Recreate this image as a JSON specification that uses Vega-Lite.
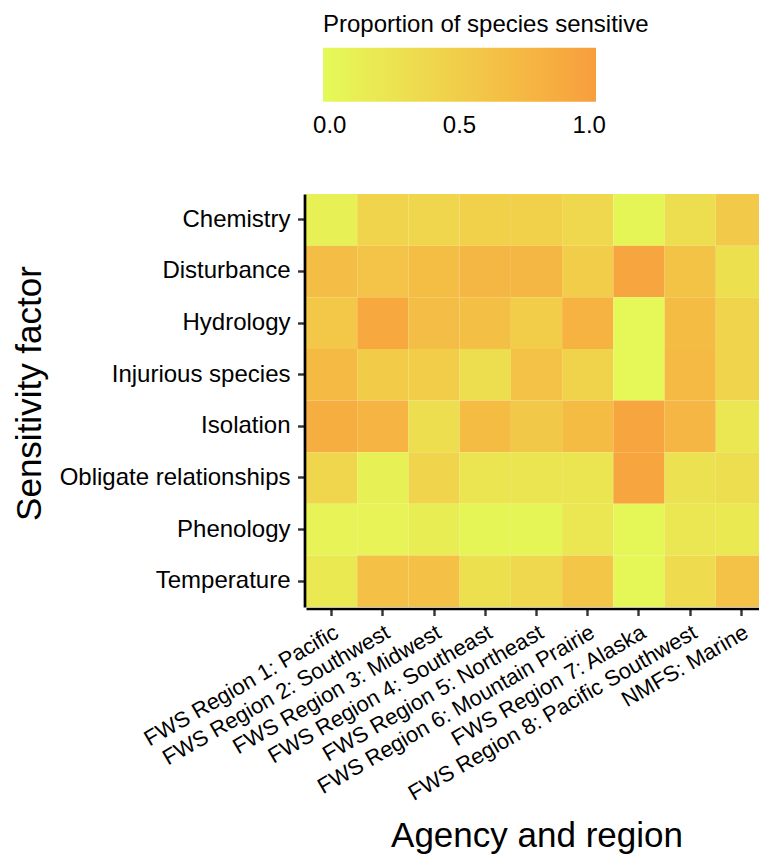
{
  "$schema": "https://vega.github.io/schema/vega-lite/v6.json",
  "autosize": {"type": "none"},
  "padding": {"left": 306, "top": 194, "right": 0, "bottom": 247},
  "width": 461,
  "height": 413,
  "background": "white",
  "config": {
    "view": {"stroke": null},
    "font": "Liberation Sans",
    "axis": {"grid": false}
  },
  "data": {
    "values": [
      {"region": "FWS Region 1: Pacific", "factor": "Chemistry", "p": 0.08},
      {"region": "FWS Region 2: Southwest", "factor": "Chemistry", "p": 0.42},
      {"region": "FWS Region 3: Midwest", "factor": "Chemistry", "p": 0.40},
      {"region": "FWS Region 4: Southeast", "factor": "Chemistry", "p": 0.47},
      {"region": "FWS Region 5: Northeast", "factor": "Chemistry", "p": 0.47},
      {"region": "FWS Region 6: Mountain Prairie", "factor": "Chemistry", "p": 0.38},
      {"region": "FWS Region 7: Alaska", "factor": "Chemistry", "p": 0.03},
      {"region": "FWS Region 8: Pacific Southwest", "factor": "Chemistry", "p": 0.30},
      {"region": "NMFS: Marine", "factor": "Chemistry", "p": 0.55},

      {"region": "FWS Region 1: Pacific", "factor": "Disturbance", "p": 0.68},
      {"region": "FWS Region 2: Southwest", "factor": "Disturbance", "p": 0.60},
      {"region": "FWS Region 3: Midwest", "factor": "Disturbance", "p": 0.67},
      {"region": "FWS Region 4: Southeast", "factor": "Disturbance", "p": 0.75},
      {"region": "FWS Region 5: Northeast", "factor": "Disturbance", "p": 0.75},
      {"region": "FWS Region 6: Mountain Prairie", "factor": "Disturbance", "p": 0.50},
      {"region": "FWS Region 7: Alaska", "factor": "Disturbance", "p": 0.95},
      {"region": "FWS Region 8: Pacific Southwest", "factor": "Disturbance", "p": 0.62},
      {"region": "NMFS: Marine", "factor": "Disturbance", "p": 0.28},

      {"region": "FWS Region 1: Pacific", "factor": "Hydrology", "p": 0.57},
      {"region": "FWS Region 2: Southwest", "factor": "Hydrology", "p": 0.92},
      {"region": "FWS Region 3: Midwest", "factor": "Hydrology", "p": 0.68},
      {"region": "FWS Region 4: Southeast", "factor": "Hydrology", "p": 0.66},
      {"region": "FWS Region 5: Northeast", "factor": "Hydrology", "p": 0.50},
      {"region": "FWS Region 6: Mountain Prairie", "factor": "Hydrology", "p": 0.80},
      {"region": "FWS Region 7: Alaska", "factor": "Hydrology", "p": 0.0},
      {"region": "FWS Region 8: Pacific Southwest", "factor": "Hydrology", "p": 0.70},
      {"region": "NMFS: Marine", "factor": "Hydrology", "p": 0.42},

      {"region": "FWS Region 1: Pacific", "factor": "Injurious species", "p": 0.72},
      {"region": "FWS Region 2: Southwest", "factor": "Injurious species", "p": 0.52},
      {"region": "FWS Region 3: Midwest", "factor": "Injurious species", "p": 0.50},
      {"region": "FWS Region 4: Southeast", "factor": "Injurious species", "p": 0.30},
      {"region": "FWS Region 5: Northeast", "factor": "Injurious species", "p": 0.63},
      {"region": "FWS Region 6: Mountain Prairie", "factor": "Injurious species", "p": 0.43},
      {"region": "FWS Region 7: Alaska", "factor": "Injurious species", "p": 0.0},
      {"region": "FWS Region 8: Pacific Southwest", "factor": "Injurious species", "p": 0.72},
      {"region": "NMFS: Marine", "factor": "Injurious species", "p": 0.42},

      {"region": "FWS Region 1: Pacific", "factor": "Isolation", "p": 0.85},
      {"region": "FWS Region 2: Southwest", "factor": "Isolation", "p": 0.78},
      {"region": "FWS Region 3: Midwest", "factor": "Isolation", "p": 0.30},
      {"region": "FWS Region 4: Southeast", "factor": "Isolation", "p": 0.70},
      {"region": "FWS Region 5: Northeast", "factor": "Isolation", "p": 0.56},
      {"region": "FWS Region 6: Mountain Prairie", "factor": "Isolation", "p": 0.70},
      {"region": "FWS Region 7: Alaska", "factor": "Isolation", "p": 0.95},
      {"region": "FWS Region 8: Pacific Southwest", "factor": "Isolation", "p": 0.76},
      {"region": "NMFS: Marine", "factor": "Isolation", "p": 0.20},

      {"region": "FWS Region 1: Pacific", "factor": "Obligate relationships", "p": 0.40},
      {"region": "FWS Region 2: Southwest", "factor": "Obligate relationships", "p": 0.08},
      {"region": "FWS Region 3: Midwest", "factor": "Obligate relationships", "p": 0.42},
      {"region": "FWS Region 4: Southeast", "factor": "Obligate relationships", "p": 0.22},
      {"region": "FWS Region 5: Northeast", "factor": "Obligate relationships", "p": 0.22},
      {"region": "FWS Region 6: Mountain Prairie", "factor": "Obligate relationships", "p": 0.22},
      {"region": "FWS Region 7: Alaska", "factor": "Obligate relationships", "p": 0.95},
      {"region": "FWS Region 8: Pacific Southwest", "factor": "Obligate relationships", "p": 0.27},
      {"region": "NMFS: Marine", "factor": "Obligate relationships", "p": 0.30},

      {"region": "FWS Region 1: Pacific", "factor": "Phenology", "p": 0.06},
      {"region": "FWS Region 2: Southwest", "factor": "Phenology", "p": 0.06},
      {"region": "FWS Region 3: Midwest", "factor": "Phenology", "p": 0.13},
      {"region": "FWS Region 4: Southeast", "factor": "Phenology", "p": 0.03},
      {"region": "FWS Region 5: Northeast", "factor": "Phenology", "p": 0.03},
      {"region": "FWS Region 6: Mountain Prairie", "factor": "Phenology", "p": 0.20},
      {"region": "FWS Region 7: Alaska", "factor": "Phenology", "p": 0.02},
      {"region": "FWS Region 8: Pacific Southwest", "factor": "Phenology", "p": 0.20},
      {"region": "NMFS: Marine", "factor": "Phenology", "p": 0.18},

      {"region": "FWS Region 1: Pacific", "factor": "Temperature", "p": 0.18},
      {"region": "FWS Region 2: Southwest", "factor": "Temperature", "p": 0.65},
      {"region": "FWS Region 3: Midwest", "factor": "Temperature", "p": 0.65},
      {"region": "FWS Region 4: Southeast", "factor": "Temperature", "p": 0.28},
      {"region": "FWS Region 5: Northeast", "factor": "Temperature", "p": 0.38},
      {"region": "FWS Region 6: Mountain Prairie", "factor": "Temperature", "p": 0.58},
      {"region": "FWS Region 7: Alaska", "factor": "Temperature", "p": 0.02},
      {"region": "FWS Region 8: Pacific Southwest", "factor": "Temperature", "p": 0.33},
      {"region": "NMFS: Marine", "factor": "Temperature", "p": 0.63}
    ]
  },
  "mark": {"type": "rect", "x2Offset": 0.6, "y2Offset": 0.6},
  "encoding": {
    "x": {
      "field": "region",
      "type": "nominal",
      "sort": null,
      "scale": {"paddingInner": 0, "paddingOuter": 0},
      "axis": {
        "title": "Agency and region",
        "titleFontSize": 35,
        "titleFontWeight": "normal",
        "titleColor": "black",
        "titleBaseline": "alphabetic",
        "titleY": 238,
        "labelAngle": -30,
        "labelAlign": "right",
        "labelBaseline": "top",
        "labelFontSize": 22,
        "labelColor": "black",
        "labelPadding": 6,
        "labelLimit": 0,
        "offset": 1.5,
        "domainColor": "black",
        "domainWidth": 2.7,
        "tickColor": "#333333",
        "tickWidth": 2.4,
        "tickSize": 7
      }
    },
    "y": {
      "field": "factor",
      "type": "nominal",
      "sort": null,
      "scale": {"paddingInner": 0, "paddingOuter": 0},
      "axis": {
        "title": "Sensitivity factor",
        "titleFontSize": 35,
        "titleFontWeight": "normal",
        "titleColor": "black",
        "titleAngle": -90,
        "titleAlign": "center",
        "titleBaseline": "alphabetic",
        "titleX": -264.5,
        "titleY": 199,
        "labelFontSize": 24,
        "labelColor": "black",
        "labelPadding": 7.5,
        "labelLimit": 0,
        "offset": 1.5,
        "domainColor": "black",
        "domainWidth": 2.7,
        "tickColor": "#333333",
        "tickWidth": 2.4,
        "tickSize": 7
      }
    },
    "color": {
      "field": "p",
      "type": "quantitative",
      "scale": {
        "domain": [-0.026, 1.026],
        "range": ["#E4FA58", "#F89E3C"],
        "interpolate": "lab",
        "nice": false,
        "zero": false
      },
      "legend": {
        "orient": "none",
        "direction": "horizontal",
        "legendX": 17,
        "legendY": -181.3,
        "padding": 0,
        "title": "Proportion of species sensitive",
        "titleFontSize": 24,
        "titleFontWeight": "normal",
        "titleColor": "black",
        "titlePadding": 11,
        "titleLimit": 0,
        "gradientLength": 273,
        "gradientThickness": 54,
        "gradientStrokeWidth": 0,
        "values": [0, 0.5, 1],
        "format": ".1f",
        "labelFontSize": 24,
        "labelColor": "black",
        "labelAlign": "center",
        "labelOffset": 12,
        "labelOverlap": false
      }
    }
  }
}
